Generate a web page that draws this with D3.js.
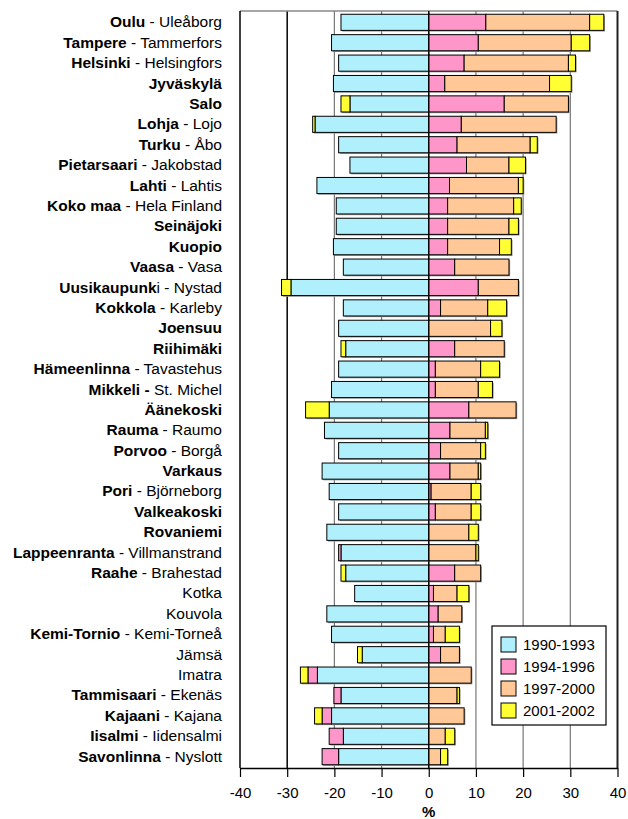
<!DOCTYPE html>
<html>
<head>
<meta charset="utf-8">
<script src="https://cdn.jsdelivr.net/npm/d3@7"></script>
<style>
  body { margin: 0; background: #fff; }
  text { font-family: "Liberation Sans", Arial, sans-serif; fill: #000; }
</style>
</head>
<body>
<svg id="chart" width="628" height="819"></svg>
<script>
const cities = ["Oulu","Tampere","Helsinki","Jyväskylä","Salo","Lohja","Turku","Pietarsaari","Lahti","Koko maa",
  "Seinäjoki","Kuopio","Vaasa","Uusikaupunki","Kokkola","Joensuu","Riihimäki","Hämeenlinna","Mikkeli","Äänekoski",
  "Rauma","Porvoo","Varkaus","Pori","Valkeakoski","Rovaniemi","Lappeenranta","Raahe","Kotka","Kouvola",
  "Kemi-Tornio","Jämsä","Imatra","Tammisaari","Kajaani","Iisalmi","Savonlinna"];

// label text: bold part + plain part
const labelBold = ["Oulu","Tampere","Helsinki","Jyväskylä","Salo","Lohja","Turku","Pietarsaari","Lahti","Koko maa",
  "Seinäjoki","Kuopio","Vaasa","Uusikaupunk","Kokkola","Joensuu","Riihimäki","Hämeenlinna","Mikkeli -","Äänekoski",
  "Rauma","Porvoo","Varkaus","Pori","Valkeakoski","Rovaniemi","Lappeenranta","Raahe","","",
  "Kemi-Tornio","","","Tammisaari","Kajaani","Iisalmi","Savonlinna"];
const labelPlain = [" - Uleåborg"," - Tammerfors"," - Helsingfors","",""," - Lojo"," - Åbo"," - Jakobstad"," - Lahtis"," - Hela Finland",
  "",""," - Vasa","i - Nystad"," - Karleby","",""," - Tavastehus"," St. Michel","",
  " - Raumo"," - Borgå",""," - Björneborg","",""," - Villmanstrand"," - Brahestad","Kotka","Kouvola",
  " - Kemi-Torneå","Jämsä","Imatra"," - Ekenäs"," - Kajana"," - Iidensalmi"," - Nyslott"];

const periods = ["1990-1993","1994-1996","1997-2000","2001-2002"];
const colors = ["#B0F0FC","#FF96CA","#FFC896","#FFFF33"];

const p1990 = [-18.6,-20.6,-19.1,-20.2,-16.7,-24.1,-19.1,-16.7,-23.7,-19.6,-19.6,-20.2,-18.1,-29.2,-18.1,-19.1,-17.6,-19.1,-20.6,-21.1,
  -22.1,-19.1,-22.6,-21.1,-19.1,-21.6,-18.6,-17.6,-15.7,-21.6,-20.6,-14.1,-23.6,-18.6,-20.6,-18.1,-19.1];
const p1994 = [12.1,10.5,7.5,3.4,16.0,6.9,6.0,8.0,4.4,4.0,4.0,4.0,5.5,10.5,2.5,0,5.5,1.4,1.4,8.5,
  4.5,2.5,4.5,0.5,1.4,0,-0.5,5.5,1.0,2.0,1.0,2.5,-2.0,-1.5,-2.0,-3.0,-3.5];
const p1997 = [22.0,19.7,22.1,22.2,13.6,20.1,15.5,9.0,14.6,14.0,13.0,11.0,11.5,8.5,10.0,13.1,10.5,9.6,9.1,10.0,
  7.5,8.5,6.0,8.5,7.6,8.5,10.0,5.5,5.0,5.0,2.5,4.0,9.0,6.0,7.5,3.5,2.5];
const p2001 = [3.0,3.9,1.5,4.6,-1.9,-0.5,1.5,3.5,1.0,1.6,2.0,2.5,0,-2.0,4.0,2.4,-1.0,4.0,3.0,-5.0,
  0.5,1.0,0.5,2.0,2.0,2.0,0.5,-1.0,2.5,0,3.0,-1.0,-1.6,0.5,-1.6,2.0,1.5];

const xTicks = [-40,-30,-20,-10,0,10,20,30,40];

const svg = d3.select("#chart");
const margin = { top: 11, right: 10, bottom: 51, left: 240 };
const plotRight = 617.5;
const plotBottom = 768;

const x = d3.scaleLinear().domain([-40, 40]).range([margin.left, plotRight]);
const y = d3.scaleBand().domain(cities).range([margin.top, plotBottom])
  .paddingInner(0.21).paddingOuter(0.16);
const color = d3.scaleOrdinal().domain(periods).range(colors);

const rows = cities.map((c, i) => ({
  city: c,
  "1990-1993": p1990[i], "1994-1996": p1994[i], "1997-2000": p1997[i], "2001-2002": p2001[i]
}));

const series = d3.stack().keys(periods).offset(d3.stackOffsetDiverging)(rows);

// gridlines
svg.append("g")
  .selectAll("line")
  .data(xTicks.filter(d => d > -40 && d < 40))
  .join("line")
  .attr("x1", d => x(d)).attr("x2", d => x(d))
  .attr("y1", margin.top).attr("y2", plotBottom)
  .attr("stroke", d => d === -30 || d === 0 ? "#000" : "#777")
  .attr("stroke-width", d => d === -30 ? 1.5 : 1.2);

// frame
svg.append("line").attr("x1", x(-40)).attr("x2", plotRight).attr("y1", margin.top).attr("y2", margin.top)
  .attr("stroke", "#888").attr("stroke-width", 1.5);
svg.append("line").attr("x1", x(-40)).attr("x2", x(-40)).attr("y1", margin.top).attr("y2", plotBottom)
  .attr("stroke", "#000").attr("stroke-width", 1.5);
svg.append("line").attr("x1", plotRight).attr("x2", plotRight).attr("y1", margin.top).attr("y2", plotBottom)
  .attr("stroke", "#222").attr("stroke-width", 2);

const segs = series.flatMap(s => s.map(d => ({ key: s.key, x0: d[0], x1: d[1], city: d.data.city })))
  .filter(d => d.x0 !== d.x1);

// shadows, then bars
svg.append("g")
  .selectAll("rect")
  .data(segs)
  .join("rect")
  .attr("x", d => x(Math.min(d.x0, d.x1)) + 1.2)
  .attr("y", d => y(d.city) + 1.2)
  .attr("width", d => Math.abs(x(d.x1) - x(d.x0)))
  .attr("height", y.bandwidth())
  .attr("fill", "#999");

svg.append("g")
  .selectAll("rect")
  .data(segs)
  .join("rect")
  .attr("x", d => x(Math.min(d.x0, d.x1)))
  .attr("y", d => y(d.city))
  .attr("width", d => Math.abs(x(d.x1) - x(d.x0)))
  .attr("height", y.bandwidth())
  .attr("fill", d => color(d.key))
  .attr("stroke", "#000")
  .attr("stroke-width", 1);

// zero line on top
svg.append("line").attr("x1", x(0)).attr("x2", x(0)).attr("y1", margin.top).attr("y2", plotBottom)
  .attr("stroke", "#000").attr("stroke-width", 1.2);

// x axis
const xAxis = svg.append("g")
  .attr("transform", `translate(0,${plotBottom})`)
  .call(d3.axisBottom(x).tickValues(xTicks).tickFormat(d => String(d))
    .tickSize(9).tickSizeOuter(0).tickPadding(10));
xAxis.select(".domain").attr("stroke", "#000").attr("stroke-width", 1.5);
xAxis.selectAll(".tick line").attr("stroke", "#000").attr("stroke-width", 1.2);
xAxis.selectAll("text").attr("font-size", "15px").attr("font-family", "Liberation Sans, Arial, sans-serif");

svg.append("text")
  .attr("x", x(0))
  .attr("y", 817)
  .attr("text-anchor", "middle")
  .attr("font-size", "15px")
  .attr("font-weight", "bold")
  .text("%");

// category labels
const labels = svg.append("g")
  .selectAll("text")
  .data(cities)
  .join("text")
  .attr("x", 222)
  .attr("y", d => y(d) + y.bandwidth() / 2 + 5)
  .attr("text-anchor", "end")
  .attr("font-size", "15.5px")
  .style("white-space", "pre");
labels.append("tspan").attr("font-weight", "bold").text((d, i) => labelBold[i]);
labels.append("tspan").text((d, i) => labelPlain[i]);

// legend
const legend = svg.append("g").attr("transform", "translate(492,626)");
legend.append("rect").attr("width", 114).attr("height", 99)
  .attr("fill", "#fff").attr("stroke", "#000").attr("stroke-width", 1.2);
const item = legend.selectAll(".item")
  .data(periods)
  .join("g")
  .attr("class", "item")
  .attr("transform", (d, i) => `translate(9,${11 + i * 22})`);
item.append("rect")
  .attr("width", 15).attr("height", 15)
  .attr("fill", d => color(d))
  .attr("stroke", "#000");
item.append("text")
  .attr("x", 22)
  .attr("y", 13)
  .attr("font-size", "15px")
  .text(d => d);
</script>
</body>
</html>
